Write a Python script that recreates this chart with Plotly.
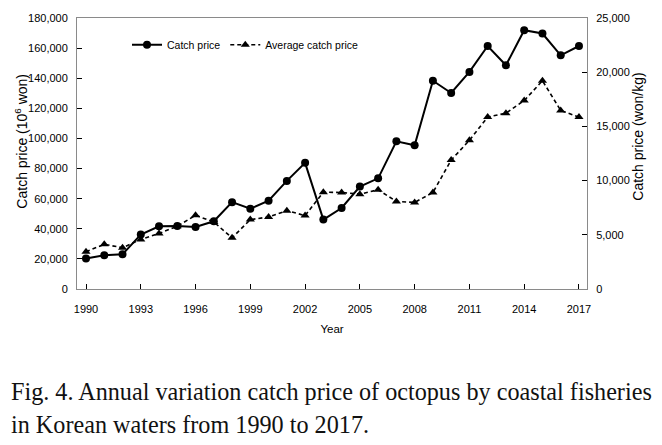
import plotly.graph_objects as go

years = list(range(1990, 2018))
catch_price = [20200, 22400, 23000, 36200, 41700, 41800, 41200, 45000, 57700, 53300,
               58600, 71800, 83800, 46100, 53800, 68000, 73500, 98100, 95500, 138300,
               130200, 144200, 161400, 148600, 171900, 169700, 155200, 161400]
avg_price = [3440, 4120, 3810, 4570, 5120, 5790, 6800, 6180, 4720, 6400,
             6640, 7230, 6770, 8930, 8900, 8750, 9150, 8080, 7990, 8900,
             11890, 13720, 15860, 16220, 17380, 19210, 16470, 15860]
x_ticks = list(range(1990, 2018, 3))
left_ticks = list(range(0, 180001, 20000))
right_ticks = list(range(0, 25001, 5000))

W, H = 662, 445
L, R, T, B = 77, 75, 15, 156
ph = H - T - B
pw = W - L - R

def px_x(x):
    return (x - L) / pw

def px_y(y):
    return (H - B - y) / ph

tickfont = "Liberation Sans Narrow, Arial Narrow, Liberation Sans, Arial"
sans = "Liberation Sans, Arial, sans-serif"
serif = "Liberation Serif, Times New Roman, serif"
axcol = "#8a8a8a"

fig = go.Figure()
fig.add_trace(go.Scatter(
    x=years, y=catch_price, name="Catch price", mode="lines+markers",
    line=dict(color="black", width=2),
    marker=dict(symbol="circle", size=8, color="black"),
))
fig.add_trace(go.Scatter(
    x=years, y=avg_price, name="Average catch price", mode="lines+markers",
    yaxis="y2",
    line=dict(color="black", width=1.6, dash="4px,3px"),
    marker=dict(symbol="triangle-up", size=8, color="black"),
))

fig.update_layout(
    width=W, height=H,
    margin=dict(l=L, r=R, t=T, b=B),
    paper_bgcolor="white", plot_bgcolor="white",
    font=dict(family=tickfont, size=11, color="black"),
    showlegend=True,
    legend=dict(orientation="h", x=px_x(127), y=px_y(42), xanchor="left", yanchor="middle",
                font=dict(family=tickfont, size=10.5, color="black"),
                bgcolor="rgba(0,0,0,0)", itemwidth=30, tracegroupgap=0),
    xaxis=dict(range=[1989.507, 2017.44], tickmode="array", tickvals=x_ticks,
               ticktext=[str(v) for v in x_ticks],
               ticks="inside", ticklen=5, tickcolor="black", tickwidth=1,
               showline=True, linecolor=axcol, linewidth=1, mirror=True,
               showgrid=False, zeroline=False,
               title=dict(text="Year", font=dict(family=tickfont, size=11.5), standoff=10),
               ticklabelstandoff=10),
    yaxis=dict(range=[0, 180000], tickmode="array", tickvals=left_ticks,
               ticktext=[f"{v:,}" for v in left_ticks],
               ticks="inside", ticklen=5, tickcolor="black", tickwidth=1,
               showline=True, linecolor=axcol, linewidth=1,
               showgrid=False, zeroline=False, ticklabelstandoff=6),
    yaxis2=dict(range=[0, 25000], overlaying="y", side="right", tickmode="array",
                tickvals=right_ticks, ticktext=[f"{v:,}" for v in right_ticks],
                ticks="inside", ticklen=5, tickcolor="black", tickwidth=1,
                showline=True, linecolor=axcol, linewidth=1,
                showgrid=False, zeroline=False, ticklabelstandoff=6),
)

annotations = [
    dict(text="Catch price (10<sup>6</sup> won)", textangle=-90, x=px_x(21), y=px_y(140),
         xref="paper", yref="paper", showarrow=False, xanchor="center", yanchor="middle",
         font=dict(family=sans, size=14, color="black")),
    dict(text="Catch price (won/kg)", textangle=-90, x=px_x(638), y=px_y(135),
         xref="paper", yref="paper", showarrow=False, xanchor="center", yanchor="middle",
         font=dict(family=sans, size=14, color="black")),
    dict(text="Fig. 4. Annual variation catch price of octopus by coastal fisheries",
         x=px_x(9), y=px_y(393), xref="paper", yref="paper", showarrow=False,
         xanchor="left", yanchor="middle", font=dict(family=serif, size=24.2, color="#111111")),
    dict(text="in Korean waters from 1990 to 2017.",
         x=px_x(9), y=px_y(426), xref="paper", yref="paper", showarrow=False,
         xanchor="left", yanchor="middle", font=dict(family=serif, size=24.2, color="#111111")),
]
fig.update_layout(annotations=annotations)

fig.write_html("out.html", config={"displayModeBar": False},
               post_script="document.body.style.margin='0';")
